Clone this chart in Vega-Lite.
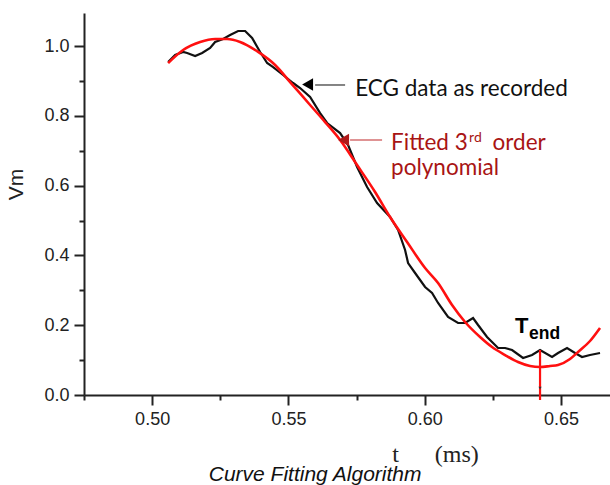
{
  "$schema": "https://vega.github.io/schema/vega-lite/v6.json",
  "width": 526,
  "height": 382,
  "autosize": "none",
  "padding": {"left": 84, "top": 13, "right": 0, "bottom": 90},
  "background": "white",
  "config": {"view": {"stroke": null}},
  "datasets": {
    "ecg": [
      {"t": 0.50587, "v": 0.9542}, {"t": 0.50844, "v": 0.9742}, {"t": 0.51137, "v": 0.9828},
      {"t": 0.51284, "v": 0.9799}, {"t": 0.51578, "v": 0.9713}, {"t": 0.51834, "v": 0.9799},
      {"t": 0.52128, "v": 0.9943}, {"t": 0.52311, "v": 1.0115}, {"t": 0.52605, "v": 1.0201},
      {"t": 0.52861, "v": 1.0315}, {"t": 0.53155, "v": 1.043}, {"t": 0.53412, "v": 1.043},
      {"t": 0.53668, "v": 1.0229}, {"t": 0.53962, "v": 0.9828}, {"t": 0.54219, "v": 0.9513},
      {"t": 0.54439, "v": 0.9398}, {"t": 0.54806, "v": 0.9169}, {"t": 0.55172, "v": 0.894},
      {"t": 0.55429, "v": 0.8797}, {"t": 0.55796, "v": 0.8539}, {"t": 0.56163, "v": 0.808},
      {"t": 0.5642, "v": 0.7794}, {"t": 0.56897, "v": 0.7507}, {"t": 0.5719, "v": 0.7163},
      {"t": 0.5752, "v": 0.6533}, {"t": 0.57887, "v": 0.596}, {"t": 0.58254, "v": 0.5501},
      {"t": 0.58731, "v": 0.51}, {"t": 0.59024, "v": 0.4728}, {"t": 0.59281, "v": 0.4155},
      {"t": 0.59391, "v": 0.3782}, {"t": 0.59648, "v": 0.3496}, {"t": 0.60015, "v": 0.3095},
      {"t": 0.60271, "v": 0.2923}, {"t": 0.60492, "v": 0.2636}, {"t": 0.60858, "v": 0.2235},
      {"t": 0.61225, "v": 0.2063}, {"t": 0.61482, "v": 0.2063}, {"t": 0.61776, "v": 0.2206},
      {"t": 0.61959, "v": 0.2006}, {"t": 0.62289, "v": 0.1662}, {"t": 0.62693, "v": 0.1347},
      {"t": 0.62949, "v": 0.1347}, {"t": 0.63206, "v": 0.1289}, {"t": 0.6361, "v": 0.106},
      {"t": 0.6394, "v": 0.1146}, {"t": 0.64233, "v": 0.1289}, {"t": 0.64674, "v": 0.1089},
      {"t": 0.64894, "v": 0.1203}, {"t": 0.65224, "v": 0.1347}, {"t": 0.65517, "v": 0.1203},
      {"t": 0.65774, "v": 0.1089}, {"t": 0.66067, "v": 0.1146}, {"t": 0.66434, "v": 0.1203}
    ],
    "fit": [
      {"t": 0.50587, "v": 0.951}, {"t": 0.51137, "v": 0.9885}, {"t": 0.51761, "v": 1.0115},
      {"t": 0.52311, "v": 1.02}, {"t": 0.52751, "v": 1.02}, {"t": 0.53228, "v": 1.0115},
      {"t": 0.53889, "v": 0.983}, {"t": 0.54512, "v": 0.9456}, {"t": 0.55062, "v": 0.8968},
      {"t": 0.55796, "v": 0.831}, {"t": 0.56346, "v": 0.782}, {"t": 0.56897, "v": 0.7307},
      {"t": 0.5752, "v": 0.659}, {"t": 0.5818, "v": 0.5817}, {"t": 0.5873, "v": 0.51},
      {"t": 0.59354, "v": 0.4384}, {"t": 0.60015, "v": 0.3639}, {"t": 0.60492, "v": 0.3209},
      {"t": 0.61005, "v": 0.2579}, {"t": 0.61482, "v": 0.2092}, {"t": 0.62032, "v": 0.1662},
      {"t": 0.62472, "v": 0.1375}, {"t": 0.62949, "v": 0.1146}, {"t": 0.63426, "v": 0.0946},
      {"t": 0.63866, "v": 0.0831}, {"t": 0.64233, "v": 0.0802}, {"t": 0.646, "v": 0.0831},
      {"t": 0.64893, "v": 0.086}, {"t": 0.65334, "v": 0.1032}, {"t": 0.65627, "v": 0.1232},
      {"t": 0.66067, "v": 0.1547}, {"t": 0.66434, "v": 0.192}
    ]
  },
  "encoding": {
    "x": {
      "type": "quantitative",
      "scale": {"domain": [0.475, 0.668], "nice": false, "zero": false},
      "axis": {
        "values": [0.475, 0.5, 0.525, 0.55, 0.575, 0.6, 0.625, 0.65],
        "labelExpr": "round(datum.value*1000) % 50 == 0 ? format(datum.value, '.2f') : ''",
        "grid": false,
        "domainColor": "#222", "domainWidth": 2,
        "tickColor": "#222", "tickWidth": 2,
        "tickSize": {"condition": {"test": "round(datum.value*1000) % 50 == 0", "value": 10}, "value": 5},
        "labelFont": "Liberation Sans", "labelFontSize": 18, "labelColor": "#222", "labelPadding": 5,
        "labelFlush": false, "labelOverlap": false,
        "title": "t\u00a0\u00a0\u00a0\u00a0\u00a0\u00a0(ms)",
        "titleFont": "Liberation Serif", "titleFontSize": 24, "titleFontWeight": "normal", "titleColor": "#222",
        "titleX": 351, "titleY": 66, "titleAlign": "center", "titleBaseline": "alphabetic"
      }
    },
    "y": {
      "type": "quantitative",
      "scale": {"domain": [0, 1.0946], "nice": false, "zero": false},
      "axis": {
        "values": [0, 0.1, 0.2, 0.3, 0.4, 0.5, 0.6, 0.7, 0.8, 0.9, 1.0],
        "labelExpr": "round(datum.value*10) % 2 == 0 ? format(datum.value, '.1f') : ''",
        "grid": false,
        "domainColor": "#222", "domainWidth": 2,
        "tickColor": "#222", "tickWidth": 2,
        "tickSize": {"condition": {"test": "round(datum.value*10) % 2 == 0", "value": 10}, "value": 5},
        "labelFont": "Liberation Sans", "labelFontSize": 18, "labelColor": "#222", "labelPadding": 5,
        "labelFlush": false, "labelOverlap": false,
        "title": "Vm",
        "titleFont": "Liberation Sans", "titleFontSize": 21, "titleFontWeight": "normal", "titleColor": "#222",
        "titleX": -68, "titleY": 171, "titleAngle": -90, "titleAlign": "center", "titleBaseline": "middle"
      }
    }
  },
  "layer": [
    {
      "data": {"name": "ecg"},
      "mark": {"type": "line", "color": "#111111", "strokeWidth": 2.2, "clip": false},
      "encoding": {"x": {"field": "t"}, "y": {"field": "v"}}
    },
    {
      "data": {"name": "fit"},
      "mark": {"type": "line", "color": "#ff1010", "strokeWidth": 2.6, "interpolate": "monotone", "clip": false},
      "encoding": {"x": {"field": "t"}, "y": {"field": "v"}}
    },
    {
      "data": {"values": [{}]},
      "mark": {"type": "rule", "color": "#ff1010", "strokeWidth": 2.2},
      "encoding": {"x": {"datum": 0.64233}, "y": {"datum": 0.1289}, "y2": {"datum": -0.0143}}
    },
    {
      "data": {"values": [{}]},
      "mark": {"type": "point", "shape": "triangle-down", "filled": true, "color": "#333", "size": 10, "opacity": 1},
      "encoding": {"x": {"datum": 0.64233}, "y": {"datum": 0.02}}
    },
    {
      "data": {"values": [{}]},
      "mark": {"type": "rule", "color": "#333333", "strokeWidth": 1.2},
      "encoding": {"x": {"datum": 0.5598}, "x2": {"datum": 0.5708}, "y": {"datum": 0.8883}}
    },
    {
      "data": {"values": [{}]},
      "mark": {"type": "point", "shape": "triangle-left", "filled": true, "color": "#000", "size": 160, "opacity": 1},
      "encoding": {"x": {"datum": 0.55704}, "y": {"datum": 0.8897}}
    },
    {
      "data": {"values": [{}]},
      "mark": {"type": "rule", "color": "#c0282a", "strokeWidth": 1.2},
      "encoding": {"x": {"datum": 0.57263}, "x2": {"datum": 0.58437}, "y": {"datum": 0.7307}}
    },
    {
      "data": {"values": [{}]},
      "mark": {"type": "point", "shape": "triangle-left", "filled": true, "color": "#b01818", "size": 160, "opacity": 1},
      "encoding": {"x": {"datum": 0.57025}, "y": {"datum": 0.7307}}
    },
    {
      "data": {"values": [{}]},
      "mark": {"type": "text", "text": "ECG data as recorded", "font": "Lato", "fontSize": 22.5, "color": "#111", "align": "left", "baseline": "alphabetic"},
      "encoding": {"x": {"datum": 0.5745}, "y": {"datum": 0.8567}}
    },
    {
      "data": {"values": [{}]},
      "mark": {"type": "text", "text": "Fitted 3", "font": "Lato", "fontSize": 22.5, "color": "#a81414", "align": "left", "baseline": "alphabetic"},
      "encoding": {"x": {"datum": 0.58767}, "y": {"datum": 0.702}}
    },
    {
      "data": {"values": [{}]},
      "mark": {"type": "text", "text": "rd", "font": "Lato", "fontSize": 14, "color": "#a81414", "align": "left", "baseline": "alphabetic"},
      "encoding": {"x": {"datum": 0.61629}, "y": {"datum": 0.7249}}
    },
    {
      "data": {"values": [{}]},
      "mark": {"type": "text", "text": "order", "font": "Lato", "fontSize": 22.5, "color": "#a81414", "align": "left", "baseline": "alphabetic"},
      "encoding": {"x": {"datum": 0.6249}, "y": {"datum": 0.702}}
    },
    {
      "data": {"values": [{}]},
      "mark": {"type": "text", "text": "polynomial", "font": "Lato", "fontSize": 22.5, "color": "#a81414", "align": "left", "baseline": "alphabetic"},
      "encoding": {"x": {"datum": 0.58767}, "y": {"datum": 0.6304}}
    },
    {
      "data": {"values": [{}]},
      "mark": {"type": "text", "text": "T", "font": "Liberation Sans", "fontSize": 22, "fontWeight": "bold", "color": "#000", "align": "left", "baseline": "alphabetic"},
      "encoding": {"x": {"datum": 0.63316}, "y": {"datum": 0.1777}}
    },
    {
      "data": {"values": [{}]},
      "mark": {"type": "text", "text": "end", "font": "Liberation Sans", "fontSize": 17.5, "fontWeight": "bold", "color": "#000", "align": "left", "baseline": "alphabetic"},
      "encoding": {"x": {"datum": 0.6383}, "y": {"datum": 0.1605}}
    },
    {
      "data": {"values": [{}]},
      "mark": {"type": "text", "text": "Curve Fitting Algorithm", "font": "Liberation Sans", "fontSize": 21, "fontStyle": "italic", "color": "#111", "align": "center", "baseline": "alphabetic"},
      "encoding": {"x": {"datum": 0.5598}, "y": {"datum": -0.2464}}
    }
  ]
}
